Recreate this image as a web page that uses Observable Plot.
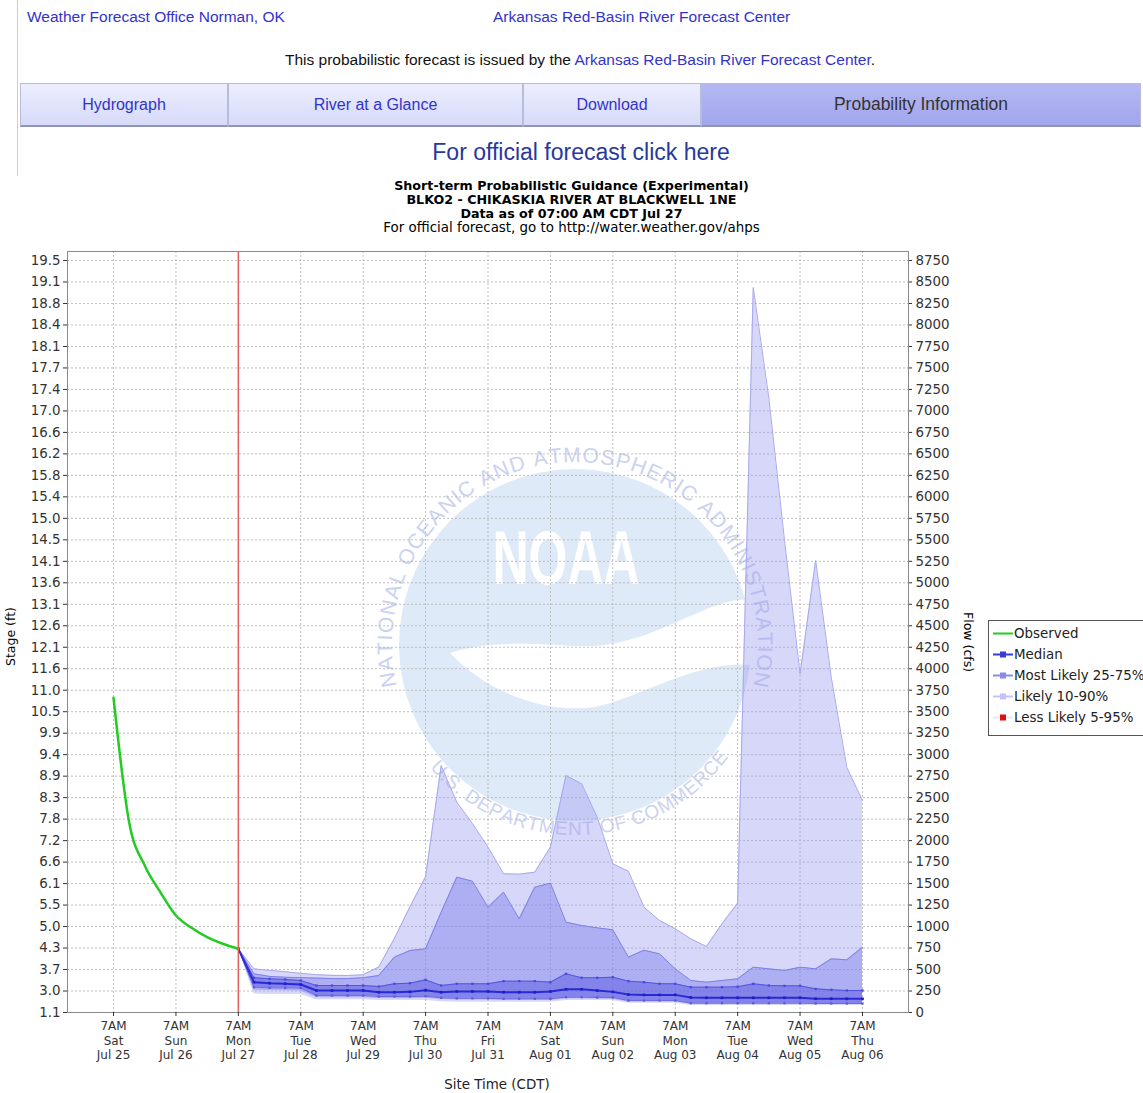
<!DOCTYPE html>
<html><head><meta charset="utf-8">
<script src="https://cdn.jsdelivr.net/npm/d3@7"></script>
<script src="https://cdn.jsdelivr.net/npm/@observablehq/plot@0.6"></script>
<style>
body{margin:0;background:#fff;width:1143px;height:1093px;overflow:hidden;position:relative;font-family:"Liberation Sans",Arial,sans-serif;}
.abs{position:absolute;white-space:nowrap;}
.lnk{color:#3333cc;font-size:15.5px;}
.tab{position:absolute;top:83px;height:41px;border:1px solid #b8bcd8;border-bottom:2px solid #9094b8;background:linear-gradient(#eceeff,#d6daf8);color:#3333cc;font-size:16px;text-align:center;line-height:41px;box-sizing:content-box;}
.tab.sel{background:linear-gradient(#b4b8f2,#a2a6ec);color:#333;font-size:17.5px;}
.ct{position:absolute;left:0;width:1143px;text-align:center;font-family:"DejaVu Sans",sans-serif;font-size:12.7px;color:#000;}
.leg{position:absolute;left:988px;top:620px;width:170px;height:114px;border:1px solid #555;background:#fff;font-family:"DejaVu Sans",sans-serif;font-size:13.4px;color:#222;}
.li{position:absolute;left:25px;height:15px;line-height:15px;}
</style></head><body>
<div class="abs" style="left:17px;top:0;width:1px;height:176px;background:#c8cbe6"></div>
<div class="abs lnk" style="left:27px;top:8px">Weather Forecast Office Norman, OK</div>
<div class="abs lnk" style="left:493px;top:8px">Arkansas Red-Basin River Forecast Center</div>
<div class="abs" style="left:0;width:1160px;text-align:center;top:51px;font-size:15.5px;color:#111">This probabilistic forecast is issued by the <span style="color:#3333cc">Arkansas Red-Basin River Forecast Center</span>.</div>
<div class="tab" style="left:20px;width:206px">Hydrograph</div>
<div class="tab" style="left:228px;width:293px">River at a Glance</div>
<div class="tab" style="left:523px;width:176px">Download</div>
<div class="tab sel" style="left:701px;width:438px">Probability Information</div>
<div class="abs" style="left:0;width:1162px;text-align:center;top:139px;font-size:23px;color:#27389e">For official forecast click here</div>

<svg id="wm" class="abs" style="left:0;top:0" width="1143" height="1093"></svg>
<div id="chart" class="abs" style="left:0;top:240px"></div>

<div class="ct" style="top:178px;font-weight:bold">Short-term Probabilistic Guidance (Experimental)</div>
<div class="ct" style="top:192px;font-weight:bold">BLKO2 - CHIKASKIA RIVER AT BLACKWELL 1NE</div>
<div class="ct" style="top:206px;font-weight:bold">Data as of 07:00 AM CDT Jul 27</div>
<div class="ct" style="top:220px;font-size:13.4px">For official forecast, go to http://water.weather.gov/ahps</div>
<div class="abs" style="left:3px;top:666px;font-family:'DejaVu Sans',sans-serif;font-size:12.5px;transform:rotate(-90deg);transform-origin:left top">Stage (ft)</div>
<div class="abs" style="left:976px;top:612px;font-family:'DejaVu Sans',sans-serif;font-size:12.5px;transform:rotate(90deg);transform-origin:left top">Flow (cfs)</div>
<div class="abs" style="left:0;width:994px;text-align:center;top:1077px;font-family:'DejaVu Sans',sans-serif;font-size:13.4px;color:#222">Site Time (CDT)</div>
<div id="legend" class="leg"></div>

<script>
// ---------- data ----------
const tickDays  = ["Sat","Sun","Mon","Tue","Wed","Thu","Fri","Sat","Sun","Mon","Tue","Wed","Thu"];
const tickDates = ["Jul 25","Jul 26","Jul 27","Jul 28","Jul 29","Jul 30","Jul 31","Aug 01","Aug 02","Aug 03","Aug 04","Aug 05","Aug 06"];
const flowTicks = [0,250,500,750,1000,1250,1500,1750,2000,2250,2500,2750,3000,3250,3500,3750,4000,4250,4500,4750,5000,5250,5500,5750,6000,6250,6500,6750,7000,7250,7500,7750,8000,8250,8500,8750];
const stageLabels = ["1.1","3.0","3.7","4.3","5.0","5.5","6.1","6.6","7.2","7.8","8.3","8.9","9.4","9.9","10.5","11.0","11.6","12.1","12.6","13.1","13.6","14.1","14.5","15.0","15.4","15.8","16.2","16.6","17.0","17.4","17.7","18.1","18.4","18.8","19.1","19.5"];
// observed flow (cfs), every 6 h from 7AM Jul 25
const observed = [3662,2214,1710,1400,1129,985,876,800,741];
// forecast flow (cfs), every 6 h from 7AM Jul 27
const q90 = [741,508,490,475,455,440,432,430,440,530,860,1230,1580,2874,2447,2200,1924,1614,1610,1633,1924,2758,2661,2273,1730,1644,1225,1070,974,857,768,1032,1272,8436,7150,5500,3940,5260,3900,2850,2467];
const q75 = [741,450,420,410,405,400,395,395,404,430,644,721,741,1167,1575,1528,1225,1400,1090,1458,1505,1051,1012,985,962,644,725,682,508,372,353,372,392,527,508,489,527,508,624,613,760];
const upper = [741,404,392,385,372,314,314,314,314,302,334,341,380,314,334,334,334,365,365,365,353,450,404,404,411,365,353,334,334,295,295,295,300,334,314,310,310,275,264,256,256];
const median = [741,353,341,334,326,256,256,256,256,236,236,240,260,236,245,245,245,236,236,236,245,270,270,255,240,209,205,205,205,175,171,171,171,171,171,171,171,160,160,159,159];
const lower = [741,295,287,287,285,198,198,198,198,186,186,186,190,170,165,165,165,160,160,160,160,178,178,175,175,140,140,140,140,109,109,109,109,109,109,109,109,105,105,105,105];
const q25 = [741,260,255,252,250,175,172,172,172,162,160,160,165,150,145,145,145,140,140,140,140,160,160,156,155,122,122,122,122,95,95,95,95,95,95,95,95,92,92,92,92];
const q10 = [741,217,209,209,209,147,147,147,147,140,140,140,140,125,120,120,120,120,120,120,120,140,140,140,140,109,109,109,109,81,81,81,81,81,81,81,81,81,81,81,81];

const legendItems = [
  {label:"Observed", color:"#22cc22", marker:null},
  {label:"Median", color:"#3a3ad8", marker:"#3a3ad8"},
  {label:"Most Likely 25-75%", color:"#8a8aec", marker:"#8a8aec"},
  {label:"Likely 10-90%", color:"#c4c4f4", marker:"#c4c4f4"},
  {label:"Less Likely 5-95%", color:"#e8e8fb", marker:"#dd1111"}
];

// ---------- build tables ----------
const HOUR = 3600e3, DAY = 24*HOUR;
const obsStart = Date.UTC(2015,6,25,7);
const fcStart = Date.UTC(2015,6,27,7);
const obs = observed.map((v,i)=>({t:new Date(obsStart+i*6*HOUR), v}));
const fc = q90.map((_,i)=>({t:new Date(fcStart+i*6*HOUR), q90:q90[i], q75:q75[i], up:upper[i], med:median[i], lo:lower[i], q25:q25[i], q10:q10[i]}));
const tickTimes = tickDates.map((_,i)=>new Date(obsStart+i*DAY));
const fmtX = d => { const i = Math.round((d-obsStart)/DAY); return `7AM\n${tickDays[i]}\n${tickDates[i]}`; };

const chart = Plot.plot({
  width:1143, height:853,
  marginLeft:67, marginRight:235, marginTop:11, marginBottom:81,
  style:{fontFamily:"'DejaVu Sans',sans-serif", fontSize:"12px", background:"transparent", color:"#333"},
  x:{type:"utc", domain:[new Date(obsStart-17.7*HOUR), new Date(obsStart+12*DAY+17.7*HOUR)]},
  y:{domain:[0,8855]},
  marks:[
    Plot.gridY(flowTicks,{stroke:"#b8b8b8",strokeOpacity:0.9,strokeDasharray:"2,2"}),
    Plot.gridX(tickTimes,{stroke:"#b8b8b8",strokeOpacity:0.9,strokeDasharray:"2,2"}),
    Plot.areaY(fc,{x:"t",y1:"q10",y2:"q90",fill:"#9b9bf0",fillOpacity:0.4}),
    Plot.lineY(fc,{x:"t",y:"q90",stroke:"#a8a8ee",strokeWidth:1}),
    Plot.areaY(fc,{x:"t",y1:"q25",y2:"q75",fill:"#7070e8",fillOpacity:0.4}),
    Plot.lineY(fc,{x:"t",y:"q75",stroke:"#8080e6",strokeWidth:1}),
    Plot.areaY(fc,{x:"t",y1:"lo",y2:"up",fill:"#5050e0",fillOpacity:0.45}),
    Plot.lineY(fc,{x:"t",y:"up",stroke:"#5454e0",strokeWidth:1}),
    Plot.lineY(fc,{x:"t",y:"lo",stroke:"#6a6ae4",strokeWidth:1}),
    Plot.dot(fc,{x:"t",y:"up",r:1.3,symbol:"square",fill:"#4a4ad8"}),
    Plot.dot(fc,{x:"t",y:"lo",r:1.3,symbol:"square",fill:"#5a5ae0"}),
    Plot.lineY(fc,{x:"t",y:"med",stroke:"#2a2ad4",strokeWidth:2}),
    Plot.dot(fc,{x:"t",y:"med",r:1.5,symbol:"square",fill:"#1e1ec8"}),
    Plot.lineY(obs,{x:"t",y:"v",stroke:"#22cc22",strokeWidth:2.5,curve:"monotone-x"}),
    Plot.ruleX([new Date(fcStart)],{stroke:"#e06060",strokeWidth:1.5}),
    Plot.frame({stroke:"#8a8a8a"}),
    Plot.axisY({anchor:"left",ticks:flowTicks,tickSize:4,tickPadding:3,fontSize:13.4,tickFormat:d=>stageLabels[flowTicks.indexOf(d)],label:null,fill:"#333"}),
    Plot.axisY({anchor:"right",ticks:flowTicks,tickSize:3,tickPadding:4,fontSize:13.4,tickFormat:d=>String(d),label:null,fill:"#333"}),
    Plot.axisX({ticks:tickTimes,tickSize:4,tickPadding:4,tickFormat:fmtX,label:null,lineHeight:1.17,fill:"#333"})
  ]
});
document.getElementById("chart").appendChild(chart);

// legend
const leg = document.getElementById("legend");
legendItems.forEach((it,i)=>{
  const y = 5 + i*21;
  const row = document.createElement("div");
  row.style.cssText = `position:absolute;left:3px;top:${y}px;width:22px;height:15px`;
  row.innerHTML = `<svg width="22" height="15"><line x1="1" x2="21" y1="7.5" y2="7.5" stroke="${it.color}" stroke-width="2"/>${it.marker?`<rect x="8" y="4.5" width="6" height="6" fill="${it.marker}"/>`:""}</svg>`;
  leg.appendChild(row);
  const t = document.createElement("div");
  t.className = "li"; t.style.top = y+"px"; t.textContent = it.label;
  leg.appendChild(t);
});

// watermark (NOAA logo, decorative)
const wm = d3.select("#wm");
const cx = 575, cy = 645;
const ringColor = "#cbd2f0", discColor = "#dfeaf9";
const FONT = "'Liberation Sans',Arial,sans-serif";
wm.append("circle").attr("cx",cx).attr("cy",cy).attr("r",176).attr("fill",discColor);
wm.append("path").attr("fill","#fff")
  .attr("d",`M ${cx-125} ${cy+8} C ${cx-70} ${cy-10}, ${cx-10} ${cy+5}, ${cx+30} ${cy} C ${cx+90} ${cy-8}, ${cx+140} ${cy-50}, ${cx+176} ${cy-45} L ${cx+176} ${cy+20} C ${cx+120} ${cy+15}, ${cx+60} ${cy+55}, ${cx+20} ${cy+62} C ${cx-40} ${cy+70}, ${cx-95} ${cy+40}, ${cx-125} ${cy+8} Z`);
wm.append("text").attr("x",cx-9).attr("y",cy-61).attr("text-anchor","middle").attr("fill","#fff")
  .attr("font-family",FONT).attr("font-weight","bold").attr("font-size",76)
  .attr("textLength",147).attr("lengthAdjust","spacingAndGlyphs").text("NOAA");

function arcText(str, r, size, spacing, centerDeg, top){
  const probe = wm.append("text").attr("font-family",FONT).attr("font-size",size);
  const widths = [...str].map(ch=>{ probe.text(ch===" "?"\u00a0":ch); return probe.node().getComputedTextLength()+spacing; });
  probe.remove();
  const L = d3.sum(widths);
  let cum = 0;
  [...str].forEach((ch,k)=>{
    const mid = cum + widths[k]/2; cum += widths[k];
    if (ch===" ") return;
    const a = top ? centerDeg + (L/2 - mid)/r*180/Math.PI : centerDeg - (L/2 - mid)/r*180/Math.PI;
    const x = cx + r*Math.cos(a*Math.PI/180), y = cy - r*Math.sin(a*Math.PI/180);
    const rot = top ? 90 - a : 270 - a;
    wm.append("text").attr("transform",`translate(${x},${y}) rotate(${rot})`).attr("text-anchor","middle")
      .attr("font-family",FONT).attr("font-size",size).attr("fill",ringColor).text(ch);
  });
}
arcText("NATIONAL OCEANIC AND ATMOSPHERIC ADMINISTRATION", 183, 21, 1.2, 90, true);
arcText("U.S. DEPARTMENT OF COMMERCE", 190, 19, 0.8, 272, false);
</script>
</body></html>
